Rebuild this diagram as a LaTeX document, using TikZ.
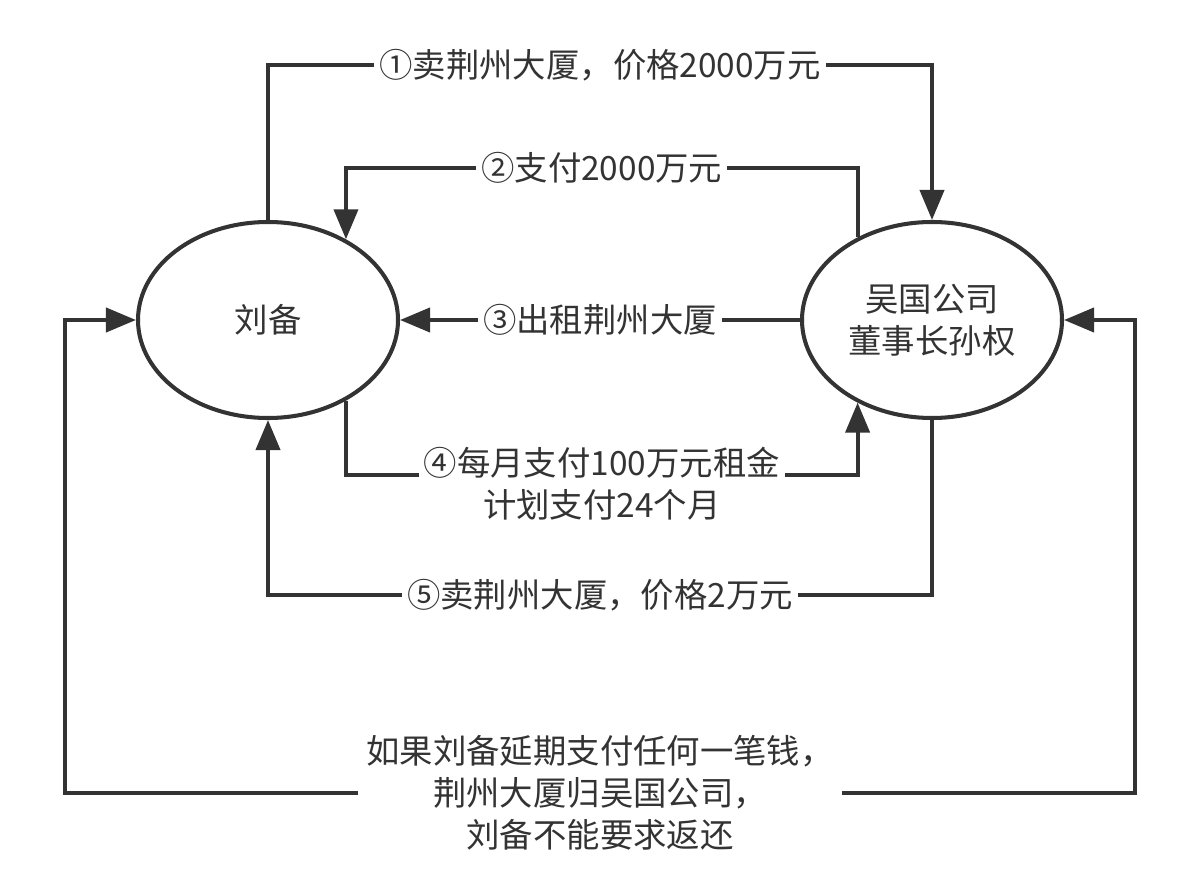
\documentclass[tikz,border=0pt]{standalone}
\usepackage{fontspec}
\setmainfont{Noto Sans CJK SC}
\usetikzlibrary{arrows.meta,shapes.geometric}
\definecolor{ink}{HTML}{333333}

\begin{document}
\begin{tikzpicture}[line width=2.3pt,color=ink,
  font=\fontsize{19}{24}\selectfont,
  >={Triangle[length=6mm,width=4.8mm]},
  party/.style={ellipse,draw,fill=white,minimum width=5.2cm,minimum height=3.92cm,inner sep=0pt,align=center},
  flow/.style={->},
  tag/.style={fill=white,inner xsep=1mm,inner ysep=0pt,align=center}]
\useasboundingbox (0,0) rectangle (24,17.86);
% ---------- parties ----------
\node[party] (liubei) at (5.36,11.46) {刘备};
\node[party] (sunquan) at (18.64,11.46) {吴国公司\\董事长孙权};
% ---------- levels of the loops ----------
\coordinate (lvA) at (0,16.56);
\coordinate (lvB) at (0,14.5);
\coordinate (lvD) at (0,8.36);
\coordinate (lvE) at (0,5.96);
\coordinate (edgeL) at (1.3,0);
\coordinate (edgeR) at (22.7,0);
% ---------- (1) sale ----------
\draw[flow] (liubei.north) -- (liubei.north |- lvA)
  -- node[tag] {①卖荆州大厦，价格2000万元} (sunquan.north |- lvA) -- (sunquan.north);
% ---------- (2) payment ----------
\draw[flow] (sunquan.132) -- (sunquan.132 |- lvB)
  -- node[tag] {②支付2000万元} (liubei.46 |- lvB) -- (liubei.46);
% ---------- (3) lease ----------
\draw[flow] (sunquan.west) -- node[tag] {③出租荆州大厦} (liubei.east);
% ---------- (4) rent ----------
\draw[flow] (liubei.-46) -- (liubei.-46 |- lvD)
  -- node[tag,yshift=-0.18cm] {④每月支付100万元租金\\计划支付24个月} (sunquan.-132 |- lvD) -- (sunquan.-132);
% ---------- (5) buy back ----------
\draw[flow] (sunquan.south) -- (sunquan.south |- lvE)
  -- node[tag] {⑤卖荆州大厦，价格2万元} (liubei.south |- lvE) -- (liubei.south);
% ---------- default clause ----------
\node[tag,inner xsep=1.2mm] (clause) at (12,2.0) {如果刘备延期支付任何一笔钱，\\荆州大厦归吴国公司，\\刘备不能要求返还};
\draw[flow] (clause.west) -| (edgeL |- liubei.west) -- (liubei.west);
\draw[flow] (clause.east) -| (edgeR |- sunquan.east) -- (sunquan.east);
\end{tikzpicture}
\end{document}
